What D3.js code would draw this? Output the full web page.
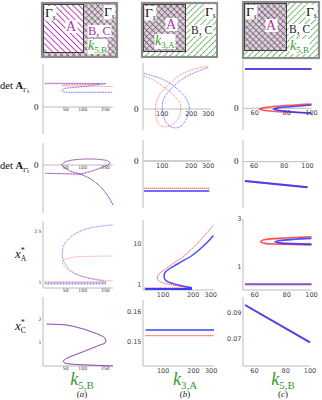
<!DOCTYPE html>
<html>
<head>
<meta charset="utf-8">
<script src="https://cdn.jsdelivr.net/npm/d3@7"></script>
<style>
  body { margin: 0; background: #fff; }
  svg { display: block; }
</style>
</head>
<body>
<div id="chart"></div>
<script>
// tick labels
var ticksA = [50, 100, 250], ticksB = [100, 200, 300], ticksC = [60, 80, 100];

// row 1 : det A_Gamma_s  (arbitrary units, 0 on the axis)
var r1aBlue = [[21.7,23.7],[60,23.7],[120,23.6],[200,23.5],[254.8,23.3],[200,22.6],[120,21],[70,19.5],[48.6,18.6],[44,17.5],[43.6,16.3],[45.4,15.2],[52,14.8],[80,14.7],[150,14.7],[334,14.7]];
var r1aRed  = [[21.7,23.3],[60,23.3],[120,23.2],[200,23.0],[120,22.6],[70,22.3],[46,22.1],[43.6,21.7],[46,21.2],[80,21],[150,20.8],[334,20.5]];
var r1bBlue = [[64.5,35.7],[74.5,34],[94.7,30.7],[120.4,25.7],[146.9,19],[172.5,12.3],[186.7,5.7],[191.3,0.7],[179.7,-9.3],[153,-17.7],[130.3,-18.7],[111.3,-14.3],[102.5,-6],[100.1,2.3],[102.5,9],[115.6,17.3],[135.7,24],[165.7,30.7],[228.4,37.3],[304.6,41.7]];
var r1bRed  = [[64.5,33],[80.6,29],[102.5,22.3],[125.4,15.7],[141.4,10.7],[153,5.7],[155.6,-1],[146.9,-9.3],[125.4,-16],[102.5,-17.7],[90.9,-14.3],[85.4,-6],[86.1,5.7],[90.9,12.3],[102.5,19],[120.4,25.7],[153,34],[210.5,39.7],[304.6,43]];
var r1cFlat = [[55,39.3],[100,39.3]];
var r1cRed  = [[100,4.3],[75.3,2.3],[65.8,0.8],[62.5,-0.7],[65.8,-2.2],[75.3,-3.4],[100,-4.4]];
var r1cBlue = [[100,3.3],[82.4,1.6],[75.3,0.8],[70.9,-0.7],[75.3,-2.2],[82.4,-3.4],[100,-5]];

// row 2 : det A_hatGamma_s
var r2aBoth = [[21.7,-8.3],[39.7,-8.6],[68,-9],[89.2,-9],[116.9,-7.5],[163.4,-5],[225.8,-2],[276,0],[299.6,1.5],[276,4],[200,5.5],[133.5,6],[89.2,5.7],[59.5,4.5],[48.6,3],[43.1,0.5],[43.6,-1],[48.6,-3],[59.5,-6],[89.2,-9],[133.5,-13.5],[163.4,-17],[200,-21],[244.8,-27],[299.6,-34],[340,-40]];
var r2bRed  = [[64.5,-27.3],[309,-27.3]];
var r2bBlue = [[64.5,-30],[309,-30]];
var r2cBoth = [[55,-19.3],[100,-25.6]];

// row 3 : x*_A
var r3aBlueFlat = [[21.7,0.955],[254.8,0.955]];
var r3aRedFlat  = [[21.7,1.0],[254.8,1.0]];
var r3aBlue = [[334,2.70],[163.4,2.64],[101.9,2.551],[68,2.402],[52.1,2.223],[45.4,2.053],[43.6,1.826],[45.4,1.656],[52.1,1.477],[59.5,1.358],[75.9,1.239],[101.9,1.158],[163.4,1.075],[225.8,1.03],[254.8,0.985]];
var r3aRed  = [[334,1.775],[163.4,1.769],[101.9,1.76],[68,1.737],[52.1,1.686],[43.6,1.605],[45.4,1.507],[52.1,1.388],[68,1.268],[101.9,1.158],[163.4,1.089],[254.8,1.045],[334,1.03]];
var r3bRedFlat  = [[64.5,0.847],[186.7,0.847]];
var r3bBlueFlat = [[66.1,0.802],[194.5,0.802]];
var r3bRed  = [[318,27],[228.4,10.9],[165.7,5.24],[120.4,3.02],[102.5,2.29],[90.9,1.84],[87.5,1.45],[90.0,1.28],[94.7,1.18],[111.3,1.057],[141.4,0.946],[186.7,0.871]];
var r3bBlue = [[318,15.3],[278.7,10.7],[228.4,6.91],[194.5,5.1],[153,3.62],[130.3,2.93],[111.3,2.29],[104,1.95],[102.5,1.65],[104,1.38],[111.3,1.2],[141.4,1.0],[194.5,0.862]];
var r3cFlat = [[55,0.24],[100,0.24]];
var r3cRed  = [[100,2.25],[75.3,2.18],[65.8,2.13],[63.3,2.04],[65.8,1.97],[75.3,1.94],[100,1.9]];
var r3cBlue = [[100,2.18],[75.3,2.09],[72,2.04],[75.3,1.99],[100,1.94]];

// row 4 : x*_C
var r4aBoth = [[23.2,1.795],[32.5,1.78],[52.1,1.752],[82.2,1.645],[116.9,1.538],[163.4,1.41],[200,1.325],[244.8,1.197],[254.8,1.09],[244.8,0.983],[200,0.897],[133.5,0.726],[101.9,0.611],[68,0.449],[52.1,0.329],[45.4,0.2],[48.6,0.128],[59.5,0.085],[89.2,0.056],[152.6,0.034],[340,0.0]];
var r4bBlue = [[67,0.1539],[320,0.1539]];
var r4bRed  = [[67,0.152],[320,0.152]];
var r4cBoth = [[55,0.0955],[100,0.0675]];

var RED = "#ff2d2d", BLUE = "#2a2aff", GREEN = "#3a9a30", MAG = "#b030b0";
var SERIF = "'Liberation Serif', 'DejaVu Serif', serif";

var svg = d3.select("#chart").append("svg").attr("width", 322).attr("height", 400);

// ---- hatch patterns
var defs = svg.append("defs");
function hatch(id, color, angle, dash) {
  var p = defs.append("pattern").attr("id", id).attr("patternUnits", "userSpaceOnUse")
    .attr("width", 4.3).attr("height", 4.3).attr("patternTransform", "rotate(" + angle + ")");
  p.append("line").attr("x1", 0.5).attr("y1", 0).attr("x2", 0.5).attr("y2", 4.3)
    .attr("stroke", color).attr("stroke-width", 0.9).attr("stroke-dasharray", dash || null);
}
hatch("hg", GREEN, 45, "1.6,0.6");
hatch("hm", MAG, -45);

function mathText(parent, x, y, parts, size, color, anchor) {
  var t = parent.append("text").attr("x", x).attr("y", y)
    .attr("font-family", SERIF).attr("font-size", size).attr("fill", color)
    .attr("text-anchor", anchor || "start");
  var cur = 0;
  parts.forEach(function(p) {
    var ts = t.append("tspan").text(p.t);
    var dy = (p.dy || 0);
    ts.attr("dy", dy - cur);
    cur = dy;
    if (p.dx) ts.attr("dx", p.dx);
    if (p.fs) ts.attr("font-size", p.fs);
    if (p.it) ts.attr("font-style", "italic");
    if (p.b) ts.attr("font-weight", "bold");
    if (p.fill) ts.attr("fill", p.fill);
  });
  return t;
}
function whiteBack(t, pad) {
  var bb = t.node().getBBox();
  t.node().parentNode.insertBefore(
    d3.create("svg:rect").attr("x", bb.x - pad).attr("y", bb.y + 1)
      .attr("width", bb.width + 2 * pad).attr("height", bb.height - 2)
      .attr("fill", "#fff").node(), t.node());
}

// ---- schematic boxes
var boxes = [
  {x: 42, y: 3, w: 75, h: 54, iw: 40, ih: 48, inFill: ["#fff", "url(#hm)"], outFill: ["#dcdcdc", "url(#hg)", "url(#hm)"]},
  {x: 142, y: 3, w: 75, h: 54, iw: 42, ih: 47, inFill: ["#d6d6d6", "url(#hg)", "url(#hm)"], outFill: ["#fff", "url(#hg)"]},
  {x: 243, y: 2, w: 76, h: 56, iw: 42, ih: 47, inFill: ["#d6d6d6", "url(#hg)", "url(#hm)"], outFill: ["#fff", "url(#hg)"]}
];
boxes.forEach(function(b) {
  var g = svg.append("g");
  b.outFill.forEach(function(f) {
    g.append("rect").attr("x", b.x).attr("y", b.y).attr("width", b.w).attr("height", b.h).attr("fill", f);
  });
  b.inFill.forEach(function(f) {
    g.append("rect").attr("x", b.x + 1.5).attr("y", b.y + 1.5).attr("width", b.iw).attr("height", b.ih).attr("fill", f);
  });
  g.append("rect").attr("x", b.x + 1.5).attr("y", b.y + 1.5).attr("width", b.iw).attr("height", b.ih)
    .attr("fill", "none").attr("stroke", "#3a3a3a").attr("stroke-width", 1);
  g.append("rect").attr("x", b.x).attr("y", b.y).attr("width", b.w).attr("height", b.h)
    .attr("fill", "none").attr("stroke", "#8c8c8c").attr("stroke-width", 2.2);
});

var gam = function(x, y) { return mathText(svg, x, y, [{t: "Γ"}, {t: "s", it: 1, fs: 7.5, dy: 2.5}], 13.5, "#111"); };
[
  gam(45, 17), gam(104, 16),
  mathText(svg, 66, 31, [{t: "A"}], 14, MAG),
  mathText(svg, 88, 35, [{t: "B, C"}], 12.5, MAG),
  mathText(svg, 88, 50, [{t: "k", it: 1}, {t: "5,B", fs: 9, dy: 3}], 14, GREEN),
  gam(145, 17), gam(205, 15.5),
  mathText(svg, 166, 29, [{t: "A"}], 14, MAG),
  mathText(svg, 155, 45, [{t: "k", it: 1}, {t: "3,A", fs: 9, dy: 3}], 14, GREEN),
  mathText(svg, 191, 34, [{t: "B, C"}], 11.5, "#222"),
  gam(246, 16), gam(306, 15.5),
  mathText(svg, 266, 30, [{t: "A"}], 14, MAG),
  mathText(svg, 289, 33, [{t: "B, C"}], 11.5, "#222"),
  mathText(svg, 290, 50, [{t: "k", it: 1}, {t: "5,B", fs: 9, dy: 3}], 14, GREEN)
].forEach(function(t) { whiteBack(t, 0.5); });

// ---- columns (log x)
var cols = {
  a: {x0: 43, x1: 113, dom: [20, 340], ticks: ticksA, fs: 4.6, off: 4},
  b: {x0: 143, x1: 210.8, dom: [63, 320], ticks: ticksB, fs: 6.5, off: 6.5},
  c: {x0: 243, x1: 311.5, dom: [54, 100], ticks: ticksC, fs: 6.5, off: 6.5}
};

function S(data, color, w, dash, op) { return {data: data, color: color, w: w, dash: dash, op: op}; }
function both(data, w, dash) { return [S(data, RED, w, dash, 0.55), S(data, BLUE, w, dash, 0.55)]; }

var panels = [
  {col: "a", top: 64, bot: 134, ydom: [-27, 43], zero: true,
   series: [S(r1aRed, RED, 1, "1,0.6", 0.55), S(r1aBlue, BLUE, 1, "1,0.6", 0.7)]},
  {col: "b", top: 63, bot: 130, ydom: [-21, 46], zero: true,
   series: [S(r1bRed, RED, 1, "1,0.8", 0.6), S(r1bBlue, BLUE, 1, "1,0.8", 0.7)]},
  {col: "c", top: 60, bot: 130, ydom: [-21.7, 48.3], zero: true,
   series: [S(r1cFlat, RED, 1.8, null, 0.5), S(r1cFlat, BLUE, 1.8, null, 0.75), S(r1cRed, RED, 1.6, null, 0.8), S(r1cBlue, BLUE, 1.6, null, 0.85)]},
  {col: "a", top: 143, bot: 213, ydom: [-48, 22], zero: true, hat: true,
   series: both(r2aBoth, 1, "1.2,0.4")},
  {col: "b", top: 140, bot: 208, ydom: [-47, 21], zero: true, thickAxis: true,
   series: [S(r2bRed, RED, 1.1, "1.5,0.5", 0.85), S(r2bBlue, BLUE, 1.6, null, 0.9)]},
  {col: "c", top: 140, bot: 208, ydom: [-46.3, 21.7], zero: true, x1: 307.5,
   series: [S(r2cBoth, RED, 2, null, 0.4), S(r2cBoth, BLUE, 2, null, 0.85)]},
  {col: "a", top: 221, bot: 288, ydom: [0.821, 2.819], yticks: [1, 2.5], yfmt: d3.format("~g"),
   series: [S(r3aRedFlat, RED, 1.4, "1,0.5", 0.45), S(r3aBlueFlat, BLUE, 1.8, "1,0.5", 0.5), S(r3aRed, RED, 1, "1,0.7", 0.45), S(r3aBlue, BLUE, 1, "1,0.7", 0.6)]},
  {col: "b", top: 220, bot: 290, ydom: [0.759, 36.2], ylog: true, yticks: [1, 10], yfmt: d3.format("d"), x1: 213.6,
   series: [S(r3bRedFlat, RED, 1, "1.5,0.5", 0.8), S(r3bBlueFlat, BLUE, 2, null, 0.9), S(r3bRed, RED, 1, "1.5,0.5", 0.75), S(r3bBlue, BLUE, 1.5, null, 0.85)]},
  {col: "c", top: 219, bot: 290, ydom: [0, 3], yticks: [1, 3], yfmt: d3.format("d"),
   series: both(r3cFlat, 2, null).concat([S(r3cRed, RED, 1.6, null, 0.85), S(r3cBlue, BLUE, 1.6, null, 0.85)])},
  {col: "a", top: 297, bot: 366, ydom: [0, 2.95], yticks: [1, 2], yfmt: d3.format("d"),
   series: both(r4aBoth, 1, null)},
  {col: "b", top: 300, bot: 366, ydom: [0.1419, 0.1639], yticks: [0.15, 0.16], yfmt: d3.format(".2f"), x1: 214,
   series: [S(r4bRed, RED, 1, "1.5,0.5", 0.85), S(r4bBlue, BLUE, 1.6, null, 0.9)]},
  {col: "c", top: 297, bot: 366, ydom: [0.0498, 0.1015], yticks: [0.07, 0.09], yfmt: d3.format(".2f"), x1: 310,
   series: [S(r4cBoth, RED, 2, null, 0.45), S(r4cBoth, BLUE, 2, null, 0.8)]}
];

panels.forEach(function(p) {
  var c = cols[p.col];
  var x = d3.scaleLog().domain(c.dom).range([c.x0, p.x1 || c.x1]);
  var y = (p.ylog ? d3.scaleLog() : d3.scaleLinear()).domain(p.ydom).range([p.bot, p.top]);
  var g = svg.append("g");
  var axisY = p.zero ? y(0) : p.bot;

  g.append("line").attr("x1", c.x0).attr("x2", c.x0).attr("y1", p.top).attr("y2", p.bot)
    .attr("stroke", "#b4b4b4").attr("stroke-width", 0.9);
  g.append("line").attr("x1", c.x0).attr("x2", p.x1 || c.x1).attr("y1", axisY).attr("y2", axisY)
    .attr("stroke", p.thickAxis ? "#cfcfcf" : "#b4b4b4").attr("stroke-width", p.thickAxis ? 2 : 0.9);

  g.selectAll("text.xt").data(c.ticks).enter().append("text")
    .attr("x", function(d) { return x(d); }).attr("y", axisY + c.off)
    .attr("text-anchor", "middle").attr("font-family", "'DejaVu Sans', sans-serif")
    .attr("font-size", c.fs).attr("fill", "#444").text(function(d) { return d; });

  if (p.zero) {
    g.append("text").attr("x", c.x0 - 4.5).attr("y", axisY + 2.5).attr("text-anchor", "end")
      .attr("font-family", SERIF).attr("font-size", 9).attr("fill", "#111").text("0");
  }
  if (p.yticks) {
    g.selectAll("text.yt").data(p.yticks).enter().append("text")
      .attr("x", c.x0 - 1.5).attr("y", function(d) { return y(d); }).attr("dy", "0.35em")
      .attr("text-anchor", "end").attr("font-family", "'DejaVu Sans', sans-serif")
      .attr("font-size", c.fs).attr("fill", "#444").text(function(d) { return p.yfmt(d); });
  }

  var line = d3.line().x(function(d) { return x(d[0]); }).y(function(d) { return y(d[1]); })
    .curve(d3.curveCatmullRom.alpha(0.5));
  p.series.forEach(function(s) {
    g.append("path").attr("d", line(s.data)).attr("fill", "none")
      .attr("stroke", s.color).attr("stroke-width", s.w).attr("stroke-opacity", s.op)
      .attr("stroke-dasharray", s.dash);
  });
});

// ---- row labels
mathText(svg, 0, 89, [{t: "det "}, {t: "A", b: 1}, {t: "Γ", fs: 7, dy: 2.5}, {t: "s", fs: 5.5, it: 1, dy: 4}], 10.5, "#111");
mathText(svg, 0, 169, [{t: "det "}, {t: "A", b: 1}, {t: "Γ\u0302", fs: 7, dy: 2.5}, {t: "s", fs: 5.5, it: 1, dy: 4}], 10.5, "#111");
mathText(svg, 15, 258, [{t: "x", it: 1}, {t: "*", fs: 8, dy: -5}, {t: "A", fs: 7.5, dy: 3, dx: -4}], 13, "#111");
mathText(svg, 15, 330, [{t: "x", it: 1}, {t: "*", fs: 8, dy: -5}, {t: "C", fs: 7.5, dy: 3, dx: -4}], 13, "#111");

// ---- bottom labels
[["5,B", 82, "a"], ["3,A", 185, "b"], ["5,B", 283, "c"]].forEach(function(l) {
  mathText(svg, l[1], 385, [{t: "k", it: 1}, {t: l[0], fs: 11, dy: 3.5}], 18, GREEN, "middle");
  mathText(svg, l[1], 397, [{t: "("}, {t: l[2], it: 1}, {t: ")"}], 9, "#222", "middle");
});
</script>
</body>
</html>
